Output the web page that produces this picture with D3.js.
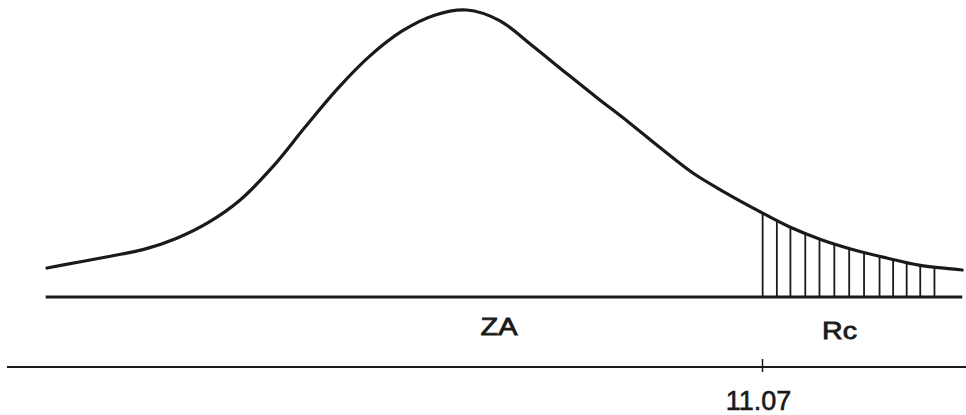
<!DOCTYPE html>
<html>
<head>
<meta charset="utf-8">
<script src="https://cdn.jsdelivr.net/npm/d3@7"></script>
<style>
    body { margin: 0; background: #fff; }
    svg { display: block; }
    text { font-family: "Liberation Sans", Arial, Helvetica, sans-serif; fill: #1a1a1a; }
</style>
</head>
<body>
<div id="chart-area"></div>
<script>
// curve samples (test statistic, relative density with peak = 100)
let curveX = [0, 0.5, 1, 1.5, 2, 2.5, 3, 3.5, 4, 4.5, 5, 5.5, 6, 6.5, 7, 7.5, 8, 8.5, 9, 9.5, 10, 10.5, 11, 11.5, 12, 12.5, 13, 13.5, 14, 14.17];
let curveY = [10.1, 12.2, 14.3, 16.6, 20.4, 26.0, 34.0, 45.5, 59.3, 72.6, 84.0, 92.7, 98.2, 100, 96.4, 87.8, 78.7, 69.7, 61.0, 51.9, 43.2, 36.4, 30.2, 24.4, 19.9, 16.4, 13.6, 11.1, 9.8, 9.4];

// rejection region hatching
let hatchX = [11.08, 11.30, 11.51, 11.74, 11.96, 12.19, 12.42, 12.65, 12.89, 13.10, 13.31, 13.52, 13.74];

let criticalValue = 11.07;
let tickLabels = ["11.07"];
let regionLabels = [{label: "ZA", x: 7.0, base: 335, len: 37}, {label: "Rc", x: 12.27, base: 339, len: 35}];

class CurveVis {
    constructor(_parentElement) {
        this.parentElement = _parentElement;
        this.initVis();
    }

    initVis() {
        let vis = this;

        vis.width = 966;
        vis.height = 415;

        vis.svg = d3.select("#" + vis.parentElement).append("svg")
            .attr("width", vis.width)
            .attr("height", vis.height);

        vis.x = d3.scaleLinear()
            .domain([0, criticalValue])
            .range([47, 762]);

        vis.y = d3.scaleLinear()
            .domain([0, 100])
            .range([297, 10]);

        vis.data = curveX.map((d, i) => ({x: d, y: curveY[i]}));

        vis.updateVis();
    }

    updateVis() {
        let vis = this;

        let line = d3.line()
            .x(d => vis.x(d.x))
            .y(d => vis.y(d.y))
            .curve(d3.curveCatmullRom.alpha(0.5));

        let area = d3.area()
            .x(d => vis.x(d.x))
            .y0(vis.y(0))
            .y1(d => vis.y(d.y))
            .curve(d3.curveCatmullRom.alpha(0.5));

        // clip so hatch lines stop at the curve
        vis.svg.append("clipPath")
            .attr("id", "under-curve")
            .append("path")
            .attr("d", area(vis.data));

        vis.svg.append("g")
            .attr("clip-path", "url(#under-curve)")
            .selectAll(".hatch")
            .data(hatchX)
            .enter()
            .append("line")
            .attr("class", "hatch")
            .attr("x1", d => vis.x(d))
            .attr("x2", d => vis.x(d))
            .attr("y1", vis.y(0))
            .attr("y2", 0)
            .attr("stroke", "#1a1a1a")
            .attr("stroke-width", 1.8);

        // baseline
        vis.svg.append("line")
            .attr("x1", vis.x(-0.02))
            .attr("x2", vis.x(14.17))
            .attr("y1", vis.y(0))
            .attr("y2", vis.y(0))
            .attr("stroke", "#1a1a1a")
            .attr("stroke-width", 3);

        vis.svg.append("path")
            .datum(vis.data)
            .attr("d", line)
            .attr("fill", "none")
            .attr("stroke", "#1a1a1a")
            .attr("stroke-width", 3.2)
            .attr("stroke-linecap", "round");

        vis.svg.selectAll(".region-label")
            .data(regionLabels)
            .enter()
            .append("text")
            .attr("class", "region-label")
            .attr("x", d => vis.x(d.x))
            .attr("y", d => d.base)
            .attr("text-anchor", "middle")
            .attr("font-size", "24px")
            .attr("textLength", d => d.len)
            .attr("lengthAdjust", "spacingAndGlyphs")
            .attr("stroke", "#1a1a1a")
            .attr("stroke-width", 0.8)
            .text(d => d.label);

        // lower statistic axis
        vis.xAxis = d3.axisBottom(vis.x)
            .tickValues([criticalValue])
            .tickFormat((d, i) => tickLabels[i])
            .tickSizeInner(5)
            .tickSizeOuter(0)
            .tickPadding(19);

        let axisG = vis.svg.append("g")
            .attr("class", "axis axis-x")
            .attr("transform", "translate(0,367)")
            .call(vis.xAxis);

        axisG.select(".domain")
            .attr("d", "M" + vis.x(-0.62) + ",0H" + vis.x(14.25))
            .attr("stroke", "#1a1a1a")
            .attr("stroke-width", 2.2);

        axisG.selectAll(".tick line")
            .attr("y1", -8)
            .attr("y2", 5)
            .attr("stroke", "#1a1a1a")
            .attr("stroke-width", 1.5);

        axisG.selectAll(".tick text")
            .attr("font-size", "27px")
            .attr("font-family", "Liberation Sans, Arial, sans-serif")
            .attr("fill", "#1a1a1a")
            .attr("stroke", "#1a1a1a")
            .attr("stroke-width", 0.6)
            .attr("dx", "-4");
    }
}

let curveVis = new CurveVis("chart-area");
</script>
</body>
</html>
